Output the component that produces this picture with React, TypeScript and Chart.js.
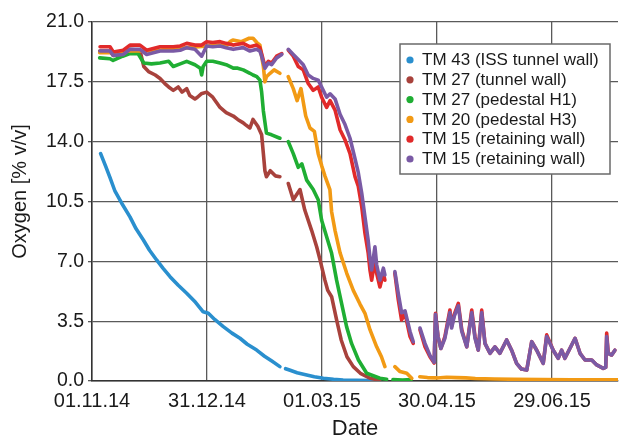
import React, { useEffect, useRef } from "react";
import { Chart, registerables } from "chart.js";

Chart.register(...registerables);

const seriesLabels = [
  "TM 43 (ISS tunnel wall)",
  "TM 27 (tunnel wall)",
  "TM 27 (pedestal H1)",
  "TM 20 (pedestal H3)",
  "TM 15 (retaining wall)",
  "TM 15 (retaining wall)",
];
const seriesColors = ["#2a8fce", "#a8423c", "#1fae33", "#f29a14", "#e12a2a", "#7a5aa5"];

const xTitle = "Date";
const yTitle = "Oxygen [% v/v]";
const xTickDays = [0, 60, 120, 180, 240];
const xTickLabels = ["01.11.14", "31.12.14", "01.03.15", "30.04.15", "29.06.15"];
const yTickValues = [0, 3.5, 7, 10.5, 14, 17.5, 21];

// days since 01.11.14
const tm43Days = [4.5, 7, 9.4, 12, 15.5, 19.8, 23, 26.8, 30, 33.7, 37, 40.7, 45, 49.4, 54, 58, 60.7, 64, 68.5, 73, 77.2, 81, 85.9, 90, 94, 98, 99.5, 101, 103, 107, 112, 116, 120.7, 126, 131, 138, 146, 150];
const tm43O2 = [13.3, 12.6, 11.9, 11.1, 10.4, 9.6, 8.9, 8.25, 7.65, 7.08, 6.6, 6.1, 5.6, 5.13, 4.6, 4.05, 3.96, 3.6, 3.18, 2.8, 2.5, 2.15, 1.81, 1.45, 1.15, 0.84, null, 0.72, 0.64, 0.48, 0.35, 0.25, 0.16, 0.1, 0.06, 0.04, 0.02, 0.02];

const tm27WallDays = [4, 9.4, 11, 16.3, 19.8, 25, 27, 29.5, 33, 35.5, 38, 40, 42.4, 45, 47, 49.4, 51, 53.7, 55, 57, 59.8, 63, 66.8, 70, 73.7, 76, 78.9, 80, 82.4, 84, 86.5, 88.5, 89.4, 90.2, 91, 93, 95.6, 98, 100, 102.4, 105, 108.5, 111, 114.6, 117.2, 119, 121.5, 123, 125, 127.6, 130, 133, 136.3, 140, 145, 150];
const tm27WallO2 = [19.3, 19.3, 19.05, 19.1, 19.4, 19.35, 18.4, 18.1, 17.9, 17.7, 17.4, 17.2, 17.0, 17.2, 16.9, 17.1, 16.7, 16.5, 16.6, 16.8, 16.9, 16.6, 16.0, 15.7, 15.5, 15.3, 15.1, 15.0, 14.8, 15.3, 14.9, 14.4, 13.3, 12.3, 11.95, 12.3, 12.0, 11.95, null, 11.55, 10.6, 11.2, 10.0, 8.8, 7.85, 7.07, 5.9, 5.3, 4.93, 3.57, 2.4, 1.42, 0.84, 0.45, 0.16, 0.05];

const tm27PedDays = [4, 9.4, 11, 16, 19.8, 24, 27, 31, 35.5, 40, 42.4, 46, 49.4, 53.7, 56.5, 57.2, 58, 59.8, 63, 66.8, 70, 73.7, 76, 78.9, 82.4, 84, 86, 87.6, 88.5, 89.4, 91, 93.7, 98, 100, 102.4, 105, 107.6, 109.5, 112, 115.4, 118, 119.8, 122.4, 125, 127.6, 130.2, 132.8, 135.4, 139, 143.3, 150.2, 153.7, 155.5, 157, 162, 166.5];
const tm27PedO2 = [18.9, 18.85, 18.75, 19.0, 19.15, 19.15, 18.6, 18.55, 18.6, 18.7, 18.4, 18.55, 18.7, 18.5, 18.3, 17.9, 18.4, 18.7, 18.7, 18.6, 18.5, 18.3, 18.3, 18.2, 18.0, 17.9, 17.8, 17.6, 16.9, 15.8, 14.5, 14.4, 14.2, null, 14.0, 13.3, 12.5, 12.7, 11.75, 11.2, 10.6, 9.4, 8.44, 7.47, 5.9, 4.54, 3.18, 2.2, 1.23, 0.45, 0.16, 0.1, null, 0.08, 0.06, 0.08];

const tm20Days = [4, 10, 20, 30, 40, 50, 60, 66, 70, 72, 73.5, 78, 82, 84, 86, 87.6, 88.5, 89.4, 90.2, 91, 92.9, 95, 98, 100, 102.4, 105, 107, 109, 111.5, 113.7, 116, 118, 119.8, 121.5, 124.1, 125, 126.8, 129.4, 132.9, 136.3, 139.8, 142.4, 145, 148.5, 151, 152.8, 155, 158, 160.7, 164.2, 166.8, 169, 171, 175, 180, 185, 190, 195, 200, 210, 220, 235, 250, 265, 274];
const tm20O2 = [19.2, 19.2, 19.3, 19.3, 19.4, 19.5, 19.6, 19.65, 19.6, 19.85, 19.95, 19.85, 20.05, 20.05, 19.8, 19.65, 19.0, 18.4, 17.5, 17.8, 18.0, 18.2, 18.0, null, 17.8, 17.1, 16.4, 17.1, 15.5, 14.8, 14.6, 13.3, 12.6, 12.0, 11.2, 9.9, 8.8, 7.5, 6.3, 5.3, 4.5, 3.96, 3.0, 2.0, 1.42, 0.84, null, 0.84, 0.55, 0.45, 0.16, null, 0.25, 0.2, 0.18, 0.22, 0.2, 0.18, 0.15, 0.12, 0.1, 0.08, 0.07, 0.07, 0.07];

const tm15Days = [4.2, 9.4, 11.1, 16.3, 19.8, 25, 28.5, 32, 35.5, 42.4, 46, 49.4, 53.7, 57.2, 59.8, 63, 66.8, 70, 73.7, 76, 78.9, 82.4, 85.9, 87.6, 88.5, 90.2, 92, 93.7, 96.3, 99, 100.7, 102.4, 105, 107.6, 110.2, 112.8, 115.4, 118, 119.8, 122.4, 124.2, 126.8, 129.4, 132, 134.6, 137.2, 138.9, 140.7, 142.4, 144.1, 145, 145.9, 147.6, 148.5, 150.2, 152, 152.8, 155, 158, 159.8, 161.5, 163.3, 165.9, 167.6, 169.5, 171.1, 173.7, 176.3, 178.5, 179.2, 180.5, 182, 184.1, 186.7, 187.6, 189, 191.1, 192.9, 195.5, 198.1, 199.8, 201.5, 203.3, 205, 207.6, 210.2, 212.8, 216.3, 218.9, 221.5, 224, 226.8, 229.4, 232, 235.4, 237.2, 240.6, 243.2, 245, 246.7, 249.3, 252, 254.6, 257.2, 260.7, 263.3, 266.7, 268, 268.5, 269.3, 271.1, 272.8];
const tm15aO2 = [19.55, 19.55, 19.25, 19.35, 19.65, 19.65, 19.35, 19.45, 19.55, 19.55, 19.6, 19.75, 19.65, 19.65, 19.85, 19.8, 19.85, 19.75, 19.65, 19.7, 19.75, 19.55, 19.65, 19.5, 19.15, 18.4, 18.7, 18.6, 19.0, 19.15, null, 19.35, 19.0, 18.4, 18.2, 17.4, 17.0, 17.2, 16.6, 16.0, 16.4, 15.85, 14.7, 14.1, 13.3, 11.95, 11.4, 10.2, 8.64, 7.47, 6.5, 5.9, 7.1, 6.3, 5.5, 6.3, 5.9, null, 6.3, 4.74, 3.57, 3.96, 2.6, 2.2, null, 3.0, 2.0, 1.42, 1.05, 3.96, 2.6, 1.9, 2.6, 4.15, 3.2, 3.9, 4.54, 3.0, 2.0, 4.15, 2.6, 1.81, 4.15, 2.2, 1.62, 2.0, 1.62, 2.4, 1.8, 1.03, 0.7, 0.64, 2.3, 1.8, 1.03, 2.7, 1.8, 1.33, 1.8, 1.33, 1.9, 2.5, 1.62, 1.23, 1.23, 0.94, 0.74, 0.8, 2.8, 1.62, 1.52, 1.8];
const tm15bO2 = [19.3, 19.3, 19.05, 19.1, 19.4, 19.4, 19.1, 19.2, 19.3, 19.3, 19.35, 19.5, 19.4, 19.0, 19.6, 19.55, 19.6, 19.5, 19.4, 19.45, 19.5, 19.3, 19.4, 19.3, 19.0, 18.3, 18.6, 18.5, 18.9, 19.1, null, 19.4, 19.1, 18.8, 18.5, 17.9, 17.7, 17.6, 17.2, 16.6, 16.8, 16.5, 15.6, 15.0, 14.2, 13.0, 12.2, 11.0, 9.6, 8.2, 7.2, 6.5, 7.85, 6.8, 5.9, 6.6, 6.2, null, 6.4, 5.1, 4.0, 4.1, 2.9, 2.3, null, 3.1, 2.2, 1.5, 1.1, 3.9, 2.6, 1.9, 2.5, 4.0, 3.1, 3.8, 4.4, 2.9, 2.0, 4.0, 2.5, 1.81, 4.0, 2.2, 1.62, 2.0, 1.62, 2.4, 1.8, 1.03, 0.7, 0.64, 2.3, 1.8, 1.03, 2.6, 1.8, 1.33, 1.8, 1.33, 1.9, 2.5, 1.62, 1.23, 1.23, 0.94, 0.74, 0.8, 2.6, 1.62, 1.52, 1.8];

const seriesDays = [tm43Days, tm27WallDays, tm27PedDays, tm20Days, tm15Days, tm15Days];
const seriesValues = [tm43O2, tm27WallO2, tm27PedO2, tm20O2, tm15aO2, tm15bO2];

const FONT = '"Liberation Sans", Arial, Helvetica, sans-serif';
const TEXT = "#1a1a1a";
const GRID = "#5a5a5a";

const insideLegend = {
  id: "insideLegend",
  afterDraw(chart: any) {
    const { ctx, chartArea } = chart;
    const w = 210;
    const h = 130;
    const x = chartArea.right - 218;
    const y = chartArea.top + 22;
    ctx.save();
    ctx.fillStyle = "#ffffff";
    ctx.fillRect(x, y, w, h);
    ctx.strokeStyle = "#6a6a6a";
    ctx.lineWidth = 1.5;
    ctx.strokeRect(x, y, w, h);
    ctx.font = `17px ${FONT}`;
    ctx.textBaseline = "middle";
    ctx.textAlign = "left";
    chart.data.datasets.forEach((ds: any, i: number) => {
      const cy = y + 16 + i * 19.8;
      ctx.fillStyle = ds.borderColor;
      ctx.beginPath();
      ctx.arc(x + 10, cy, 3.6, 0, Math.PI * 2);
      ctx.fill();
      ctx.fillStyle = TEXT;
      ctx.fillText(ds.label, x + 22, cy + 0.5);
    });
    ctx.restore();
  },
};

// y-axis title, placed slightly above the axis centre as in the reference
const yAxisTitle = {
  id: "yAxisTitle",
  afterDraw(chart: any) {
    const { ctx, chartArea } = chart;
    ctx.save();
    ctx.translate(20.5, (chartArea.top + chartArea.bottom) / 2 - 10);
    ctx.rotate(-Math.PI / 2);
    ctx.font = `20px ${FONT}`;
    ctx.fillStyle = TEXT;
    ctx.textAlign = "center";
    ctx.textBaseline = "middle";
    ctx.fillText(yTitle, 0, 0);
    ctx.restore();
  },
};

export default function App() {
  const ref = useRef<HTMLCanvasElement>(null);

  useEffect(() => {
    if (!ref.current) return;
    const datasets = seriesLabels.map((label, i) => ({
      label,
      data: seriesDays[i].map((d, j) => ({ x: d, y: seriesValues[i][j] })),
      borderColor: seriesColors[i],
      backgroundColor: seriesColors[i],
      showLine: true,
      spanGaps: false,
      pointRadius: 0,
      pointHoverRadius: 0,
      borderWidth: 3.6,
      borderCapStyle: "round",
      borderJoinStyle: "round",
      tension: 0,
      order: seriesLabels.length - 1 - i,
    }));

    const chart = new Chart(ref.current, {
      type: "scatter",
      data: { datasets } as any,
      plugins: [insideLegend, yAxisTitle],
      options: {
        animation: false,
        responsive: false,
        devicePixelRatio: 1,
        layout: { padding: { top: 22, right: 2, left: 0, bottom: 0 } },
        plugins: { legend: { display: false }, tooltip: { enabled: false } },
        scales: {
          x: {
            type: "linear",
            min: 0,
            max: 274.4,
            afterBuildTicks: (s: any) => {
              s.ticks = xTickDays.map((v) => ({ value: v }));
            },
            afterFit: (s: any) => {
              s.height = 57;
            },
            ticks: {
              callback: (_v: any, idx: number) => xTickLabels[idx],
              font: { family: FONT, size: 20 },
              color: TEXT,
              padding: 8.5,
              maxRotation: 0,
              autoSkip: false,
            },
            grid: { color: GRID, lineWidth: 1.3, drawTicks: false },
            border: { color: "#333", width: 1.5 },
            title: {
              display: true,
              text: xTitle,
              font: { family: FONT, size: 22, lineHeight: 0.8 },
              color: TEXT,
              padding: { top: 0, bottom: 0 },
            },
          },
          y: {
            type: "linear",
            min: 0,
            max: 21,
            afterBuildTicks: (s: any) => {
              s.ticks = yTickValues.map((v) => ({ value: v }));
            },
            afterFit: (s: any) => {
              s.width = 92;
            },
            ticks: {
              callback: (v: any) => Number(v).toFixed(1),
              font: { family: FONT, size: 19.5 },
              color: TEXT,
              padding: 4,
            },
            grid: { color: GRID, lineWidth: 1.3, tickLength: 4 },
            border: { color: "#333", width: 1.5 },
            title: { display: false, text: yTitle },
          },
        },
      } as any,
    });
    return () => chart.destroy();
  }, []);

  return (
    <div style={{ position: "absolute", left: 0, top: 0, width: 620, height: 438, background: "#fff" }}>
      <canvas ref={ref} width={620} height={438} style={{ display: "block", width: 620, height: 438 }} />
    </div>
  );
}
